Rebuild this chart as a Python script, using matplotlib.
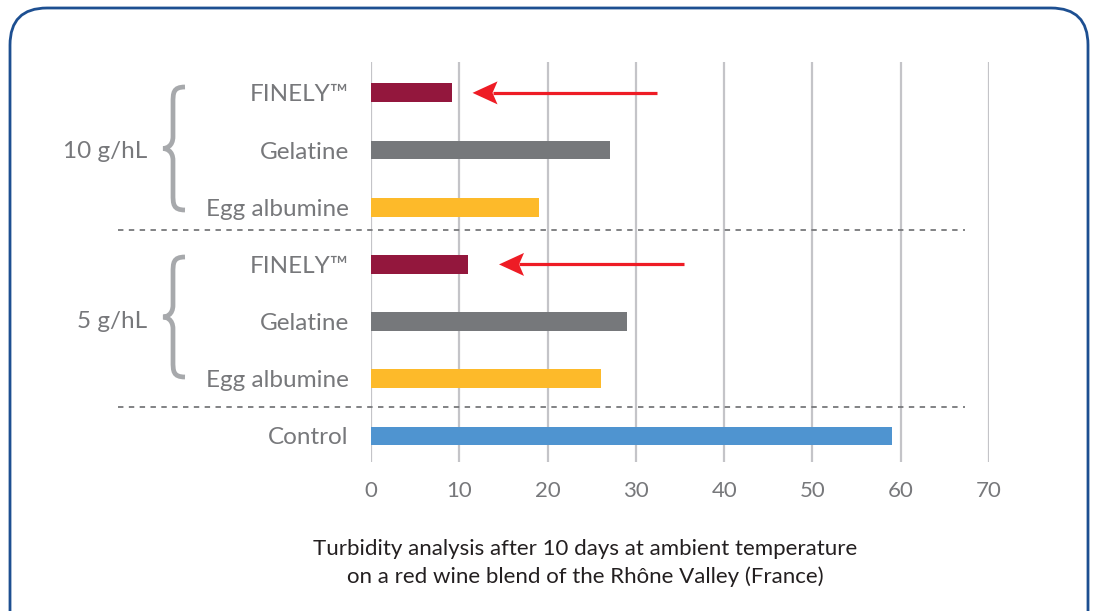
import matplotlib
matplotlib.use("Agg")
import matplotlib.pyplot as plt
from matplotlib.patches import FancyBboxPatch, PathPatch
from matplotlib.path import Path
from matplotlib.transforms import ScaledTranslation

# ---- data ----
categories = ["Control", "Egg albumine", "Gelatine", "FINELY™", "Egg albumine", "Gelatine", "FINELY™"]
values = [59.0, 26.0, 29.0, 11.0, 19.0, 27.1, 9.2]
bar_colors = ["#4f94d0", "#fdba2a", "#76787b", "#93173d", "#fdba2a", "#76787b", "#93173d"]
group_labels = ["5 g/hL", "10 g/hL"]
xticks = [0, 10, 20, 30, 40, 50, 60, 70]
# arrows: (row, tail x, head x)
arrows = [(6, 32.4, 11.5), (3, 35.4, 14.5)]
caption = "Turbidity analysis after 10 days at ambient temperature\non a red wine blend of the Rhône Valley (France)"

W, H = 1097, 611
fig = plt.figure(figsize=(W / 100, H / 100), dpi=100)
fig.patch.set_facecolor("white")
FONT = "Lato"
GRAY = "#77787b"

def px(x, y):
    return (x / W, 1 - y / H)

# rounded frame
frame = FancyBboxPatch((0.10, -0.6), 10.78, 6.63,
                       boxstyle="round,pad=0,rounding_size=0.37",
                       transform=fig.dpi_scale_trans, fill=False,
                       edgecolor="#1d4f91", linewidth=2.0, clip_on=False)
fig.patches.append(frame)

ax = fig.add_axes([371 / W, (H - 462) / H, 618 / W, 400 / H])
ax.set_xlim(0, 70)
ax.set_ylim(-0.455, 6.54)
rows = list(range(len(categories)))
ax.barh(rows, values, height=0.33, color=bar_colors, zorder=3)
ax.set_xticks(xticks)
ax.set_xticklabels([str(t) for t in xticks], fontsize=16, color=GRAY, family=FONT)
ax.set_yticks(rows)
ax.set_yticklabels(categories, fontsize=17.5, color=GRAY, family=FONT)
ax.tick_params(axis="both", length=0)
ax.tick_params(axis="x", pad=14)
ax.tick_params(axis="y", pad=16)
ax.grid(axis="x", color="#c4c4c8", linewidth=1.6, zorder=1)
for s in ax.spines.values():
    s.set_visible(False)

# dashed separators
for yy in [3.60, 0.51]:
    ax.plot([-28.65, 67.3], [yy, yy], linestyle=(0, (3, 3)), color="#77787b",
            linewidth=1.3, clip_on=False, zorder=2)

# arrows: shaft + swept head (head shape in inches relative to tip)
head_verts = [(0, 0), (0.25, 0.115), (0.20, 0.0), (0.25, -0.115), (0, 0)]
head_codes = [Path.MOVETO, Path.LINETO, Path.LINETO, Path.LINETO, Path.CLOSEPOLY]
head_path = Path(head_verts, head_codes)
for row, tail, head in arrows:
    trans = fig.dpi_scale_trans + ScaledTranslation(head, row, ax.transData)
    notch = head + 0.20 * 100 / (618 / 70)
    ax.plot([notch, tail], [row, row], color="#ee1c25", linewidth=2.3,
            solid_capstyle="butt", zorder=4)
    ax.add_patch(PathPatch(head_path, transform=trans, facecolor="#ee1c25",
                           edgecolor="none", zorder=5, clip_on=False))

# braces
def brace(ytop, ybot, xr=185, xl=163):
    mid = (ytop + ybot) / 2
    xm = 173
    verts = [
        (xr, ytop), (xm, ytop), (xm, ytop + 6), (xm, ytop + 16),
        (xm, mid - 12),
        (xm, mid - 2), (xl + 3, mid), (xl, mid),
        (xl + 3, mid), (xm, mid + 2), (xm, mid + 12),
        (xm, ybot - 16),
        (xm, ybot - 6), (xm, ybot), (xr, ybot),
    ]
    codes = [Path.MOVETO, Path.CURVE4, Path.CURVE4, Path.CURVE4,
             Path.LINETO,
             Path.CURVE4, Path.CURVE4, Path.CURVE4,
             Path.CURVE4, Path.CURVE4, Path.CURVE4,
             Path.LINETO,
             Path.CURVE4, Path.CURVE4, Path.CURVE4]
    path = Path([px(x, y) for x, y in verts], codes)
    fig.patches.append(PathPatch(path, transform=fig.transFigure, fill=False,
                                 edgecolor="#a7a9ac", linewidth=3.4,
                                 capstyle="butt"))

brace(87, 210)
brace(257, 377)

fig.text(*px(147, 151), group_labels[1], ha="right", va="center",
         fontsize=17.5, color=GRAY, family=FONT)
fig.text(*px(147, 322), group_labels[0], ha="right", va="center",
         fontsize=17.5, color=GRAY, family=FONT)

fig.text(*px(585, 563), caption, ha="center", va="center", fontsize=16,
         color="#231f20", family=FONT, linespacing=1.45)

fig.savefig("out.png", dpi=100)
